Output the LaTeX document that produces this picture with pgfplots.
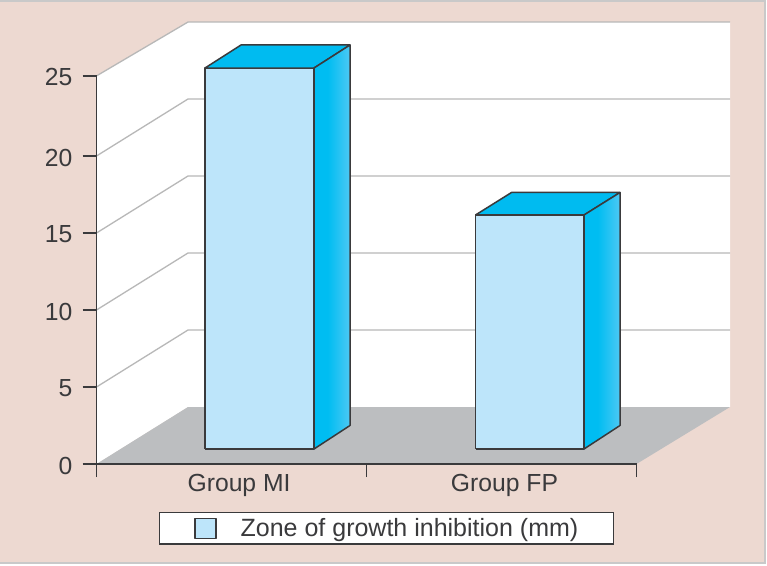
\documentclass[border=0pt]{standalone}
\usepackage{fontspec}
\setmainfont{Liberation Sans}
\usepackage{pgfplots}
\pgfplotsset{compat=1.18}

\definecolor{bgpink}{HTML}{EDD9D1}
\definecolor{frameg}{HTML}{C9C9C9}
\definecolor{floorg}{HTML}{BCBEC0}
\definecolor{gridg}{HTML}{B8B8B8}
\definecolor{inkc}{HTML}{3A3A3C}
\definecolor{barfront}{HTML}{BDE5FA}
\definecolor{bartop}{HTML}{00BBF0}
\definecolor{barside}{HTML}{00BDF2}
\definecolor{barside2}{HTML}{4CC8F4}

% only the middle 50bp of a shading is stretched over the path
\pgfdeclarehorizontalshading{sideface}{100bp}{
  color(0bp)=(barside); color(44bp)=(barside); color(75bp)=(barside2); color(100bp)=(barside2)}

\begin{document}
\begin{tikzpicture}
\path[use as bounding box] (0,0) rectangle (767pt,565pt);
\fill[white] (0,0) rectangle (767pt,565pt);
\fill[bgpink] (0,2pt) rectangle (765pt,564pt);
\draw[frameg,line width=1.5pt] (0,2pt) -- (765pt,2pt) -- (765pt,564pt) -- (0,564pt);

\begin{axis}[
  anchor=south west,
  at={(96.5pt,101pt)},
  scale only axis,
  width=540pt, height=388.08pt,
  xmin=0, xmax=2,
  ymin=0, ymax=25.2,
  clip=false,
  axis on top,
  axis x line=bottom,
  axis y line=left,
  axis line style={-, color=inkc, line width=1.7pt},
  tick style={color=inkc, line width=1.7pt},
  tick align=outside,
  major tick length=14pt,
  minor tick length=13pt,
  xtick={0.528,1.511},
  xticklabels={Group MI,Group FP},
  minor xtick={0,1,2},
  major x tick style={draw=none},
  minor x tick style={color=inkc, line width=1.7pt},
  ytick={0,5,10,15,20,25.2},
  yticklabels={0,5,10,15,20,25},
  ticklabel style={font=\fontsize{24.7}{28}\selectfont, text=inkc},
  xticklabel style={inner sep=0pt, yshift=5pt, text height=18pt, text depth=5pt},
  yticklabel style={inner sep=0pt, xshift=-10pt, yshift=-1.5pt},
  legend style={
    at={(axis cs:1.0733,-4.18)}, anchor=center,
    draw=inkc, line width=1.5pt, fill=white,
    inner xsep=33pt, inner ysep=4pt,
    font=\fontsize{25}{28}\selectfont, text=inkc,
    legend cell align=left,
  },
  legend image code/.code={
    \path (0pt,0pt);
    \draw[#1, line width=1.2pt] (2pt,-10pt) rectangle (23pt,10pt);
  },
]
  % back and side wall
  \addplot[fill=white, draw=none, forget plot] coordinates {(0,0) (0,25.2) (0.3389,28.7) (2.3463,28.7) (2.3463,3.701) (0.3389,3.701) (0,0)};
  % floor
  \addplot[fill=floorg, draw=none, forget plot] coordinates {(0,0) (0.3389,3.701) (2.3463,3.701) (2,0) (0,0)};
  % grid lines
  \addplot[gridg, line width=1.3pt, forget plot] coordinates {(0,5) (0.3389,8.701) (2.3463,8.701)};
  \addplot[gridg, line width=1.3pt, forget plot] coordinates {(0,10) (0.3389,13.701) (2.3463,13.701)};
  \addplot[gridg, line width=1.3pt, forget plot] coordinates {(0,15) (0.3389,18.701) (2.3463,18.701)};
  \addplot[gridg, line width=1.3pt, forget plot] coordinates {(0,20) (0.3389,23.701) (2.3463,23.701)};
  \addplot[gridg, line width=1.3pt, forget plot] coordinates {(0,25.2) (0.3389,28.7) (2.3463,28.7)};

  % Group MI
  \addplot[fill=barfront, draw=inkc, line width=1.5pt, line join=round] coordinates {(0.4019,0.974) (0.8056,0.974) (0.8056,25.714) (0.4019,25.714) (0.4019,0.974)};
  \addlegendentry{\hspace{22pt}Zone of growth inhibition (mm)}
  \addplot[fill=bartop, draw=inkc, line width=1.5pt, line join=round, forget plot] coordinates {(0.4019,25.714) (0.8056,25.714) (0.9389,27.208) (0.5352,27.208) (0.4019,25.714)};
  \addplot[shade, shading=sideface, draw=inkc, line width=1.5pt, line join=round, forget plot] coordinates {(0.8056,0.974) (0.9389,2.5) (0.9389,27.208) (0.8056,25.714) (0.8056,0.974)};

  % Group FP
  \addplot[fill=barfront, draw=inkc, line width=1.5pt, line join=round, forget plot] coordinates {(1.4037,0.974) (1.8056,0.974) (1.8056,16.169) (1.4037,16.169) (1.4037,0.974)};
  \addplot[fill=bartop, draw=inkc, line width=1.5pt, line join=round, forget plot] coordinates {(1.4037,16.169) (1.8056,16.169) (1.9389,17.63) (1.537,17.63) (1.4037,16.169)};
  \addplot[shade, shading=sideface, draw=inkc, line width=1.5pt, line join=round, forget plot] coordinates {(1.8056,0.974) (1.9389,2.5) (1.9389,17.63) (1.8056,16.169) (1.8056,0.974)};
\end{axis}
\end{tikzpicture}
\end{document}
